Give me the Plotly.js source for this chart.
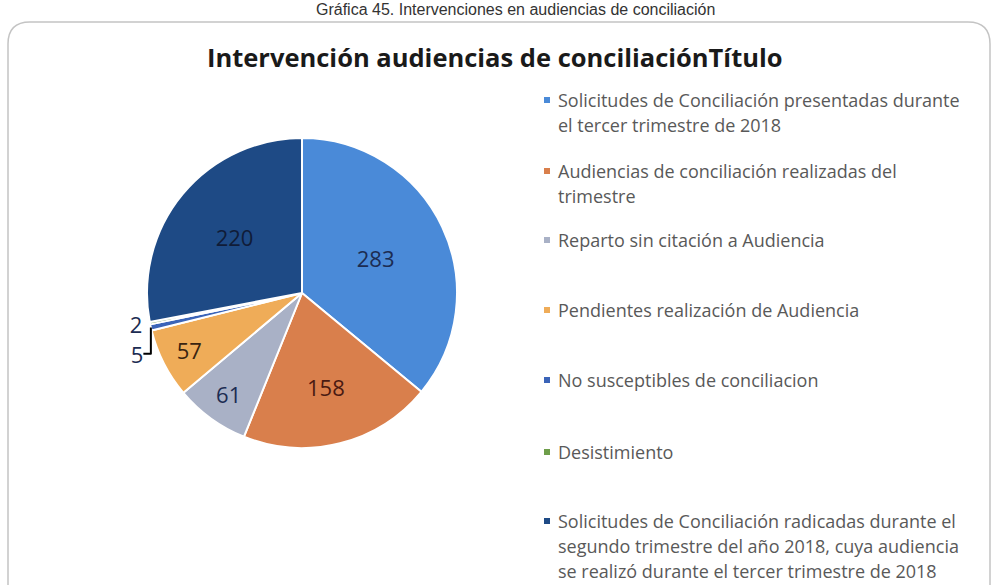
<!DOCTYPE html>
<html><head><meta charset="utf-8">
<script src="https://cdn.plot.ly/plotly-3.0.1.min.js"></script>
<style>html,body{margin:0;padding:0;background:#fff}</style>
</head><body>
<div id="chart" style="width:996px;height:585px"></div>
<script>
const labels = [
  "Solicitudes de Conciliación presentadas durante<br>el tercer trimestre de 2018",
  "Audiencias de conciliación realizadas del<br>trimestre",
  "Reparto sin citación a Audiencia",
  "Pendientes realización de Audiencia",
  "No susceptibles de conciliacion",
  "Desistimiento",
  "Solicitudes de Conciliación radicadas durante el<br>segundo trimestre del año 2018, cuya audiencia<br>se realizó durante el tercer trimestre de 2018"
];
const values = [283, 158, 61, 57, 5, 2, 220];
const colors = ["#4a8ad8", "#d97f4c", "#a9b1c6", "#efac58", "#3b64b8", "#6e9e4a", "#1e4a85"];
const textColors = ["#1c2c52", "#4a1a12", "#1c2c52", "#3a2410", "#1c2c52", "#1c2c52", "#101c38"];
const chartTitle = "Intervención audiencias de conciliaciónTítulo";
const caption = "Gráfica 45. Intervenciones en audiencias de conciliación";

const W = 996, H = 585;
const px = x => x / W, py = y => 1 - y / H;

const trace = {
  type: "pie",
  labels: labels,
  values: values,
  sort: false,
  direction: "clockwise",
  rotation: 0,
  marker: {colors: colors, line: {color: "#ffffff", width: 2}},
  textinfo: "value",
  textposition: values.map(v => v < 20 ? "outside" : "inside"),
  insidetextorientation: "horizontal",
  textfont: {family: "Open Sans, sans-serif", size: 22, color: textColors},
  outsidetextfont: {family: "Open Sans, sans-serif", size: 22, color: textColors},
  domain: {x: [px(147), px(457)], y: [py(448), py(138)]},
  showlegend: false,
  hoverinfo: "label+value"
};

const annotations = [];
const shapes = [];
// caption
annotations.push({xref: "paper", yref: "paper", x: px(515), y: py(9.5), xanchor: "center", yanchor: "middle",
  text: caption, showarrow: false, font: {family: "Liberation Sans, Arial, sans-serif", size: 16, color: "#333333"}});
// chart title
annotations.push({xref: "paper", yref: "paper", x: px(495), y: py(57), xanchor: "center", yanchor: "middle",
  text: "<b>" + chartTitle + "</b>", showarrow: false, font: {family: "Open Sans, sans-serif", size: 25.5, color: "#1a1a1a"}});

// legend built from labels/colors
const itemTops = [100, 171, 240, 310, 380, 452, 521];
const lineH = 25;
labels.forEach((lab, i) => {
  const lines = lab.split("<br>");
  lines.forEach((ln, j) => {
    annotations.push({xref: "paper", yref: "paper", x: px(556), y: py(itemTops[i] + j * lineH),
      xanchor: "left", yanchor: "middle", text: ln, showarrow: false,
      font: {family: "Open Sans, sans-serif", size: 18, color: "#595959"}});
  });
  const cy = itemTops[i];
  shapes.push({type: "rect", xref: "paper", yref: "paper",
    x0: px(544), x1: px(550), y0: py(cy + 3), y1: py(cy - 3),
    fillcolor: colors[i], line: {width: 0}});
});

// rounded outer border
const L = 8, T = 22, R = 990, B = 600, rr = 22;
const p = (x, y) => px(x) + "," + py(y);
shapes.push({type: "path", xref: "paper", yref: "paper",
  path: "M" + p(L, B) + " L" + p(L, T + rr) + " Q" + p(L, T) + " " + p(L + rr, T) +
        " L" + p(R - rr, T) + " Q" + p(R, T) + " " + p(R, T + rr) + " L" + p(R, B),
  line: {color: "#c4c4c4", width: 1.5}});

const layout = {
  width: W, height: H,
  margin: {l: 0, r: 0, t: 0, b: 0},
  paper_bgcolor: "#ffffff",
  showlegend: false,
  annotations: annotations,
  shapes: shapes
};
Plotly.newPlot("chart", [trace], layout, {displayModeBar: false, staticPlot: true});
</script>
</body></html>
